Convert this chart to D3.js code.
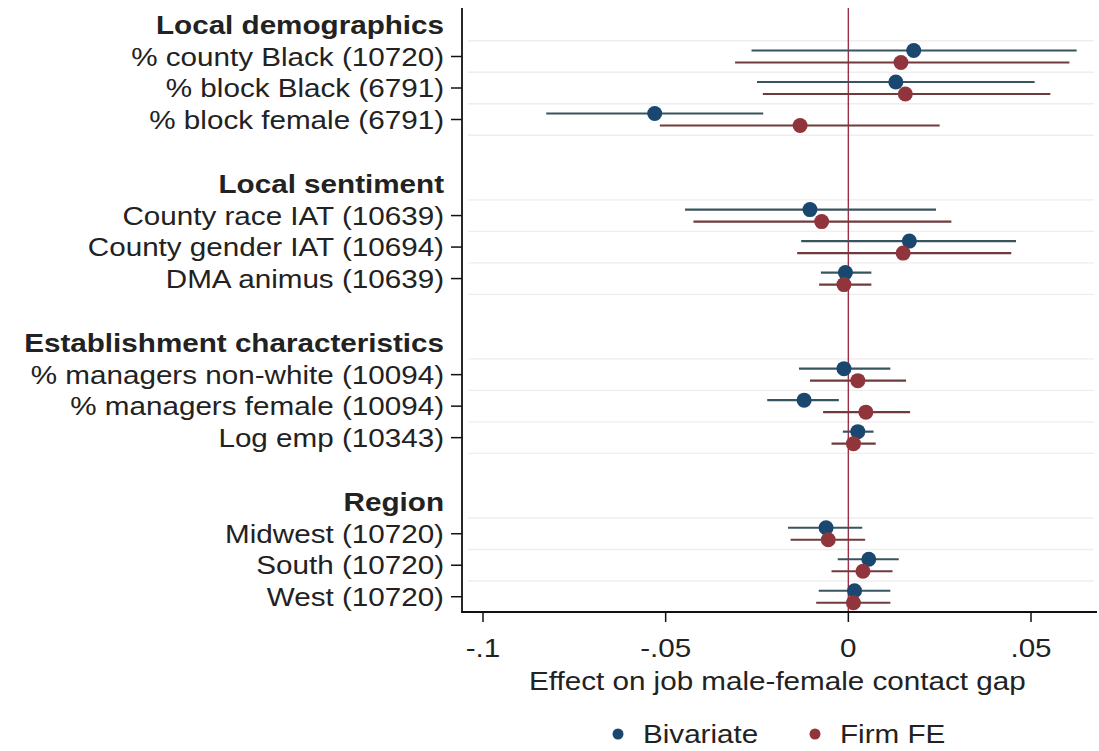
<!DOCTYPE html>
<html>
<head>
<meta charset="utf-8">
<script src="https://cdnjs.cloudflare.com/ajax/libs/d3/7.8.5/d3.min.js"></script>
<style>
  body { margin: 0; background: #fff; }
  text { font-family: "Liberation Sans", Arial, sans-serif; fill: #222; }
</style>
</head>
<body>
<script>
// group headers and the rows under each
var groups = ["Local demographics", "Local sentiment", "Establishment characteristics", "Region"];
var labels = [
  ["% county Black (10720)", "% block Black (6791)", "% block female (6791)"],
  ["County race IAT (10639)", "County gender IAT (10694)", "DMA animus (10639)"],
  ["% managers non-white (10094)", "% managers female (10094)", "Log emp (10343)"],
  ["Midwest (10720)", "South (10720)", "West (10720)"]
];

// Bivariate estimates and 95% CI
var bivCoef = [0.0179, 0.0130, -0.0530, -0.0105, 0.0167, -0.0008, -0.0012, -0.0121, 0.0026, -0.0061, 0.0056, 0.0017];
var bivLo   = [-0.0265, -0.0250, -0.0827, -0.0447, -0.0129, -0.0075, -0.0135, -0.0222, -0.0015, -0.0165, -0.0029, -0.0081];
var bivHi   = [0.0625, 0.0510, -0.0233, 0.0240, 0.0459, 0.0063, 0.0115, -0.0026, 0.0069, 0.0038, 0.0138, 0.0115];

// Firm FE estimates and 95% CI
var feCoef = [0.0144, 0.0156, -0.0132, -0.0073, 0.0150, -0.0012, 0.0026, 0.0048, 0.0014, -0.0055, 0.0040, 0.0014];
var feLo   = [-0.0310, -0.0234, -0.0516, -0.0424, -0.0140, -0.0080, -0.0105, -0.0069, -0.0046, -0.0158, -0.0046, -0.0088];
var feHi   = [0.0605, 0.0553, 0.0250, 0.0282, 0.0446, 0.0063, 0.0158, 0.0169, 0.0075, 0.0046, 0.0121, 0.0115];

var xTicks = [-0.1, -0.05, 0, 0.05];
var xTickLabels = ["-.1", "-.05", "0", ".05"];
var seriesNames = ["Bivariate", "Firm FE"];

var w = 1099, h = 751;
var blue = "#1a476f", red = "#90353b";
var blueCI = "#38555f", redCI = "#703b3d";
var fs = 26, sx = 1.14;   // text is stretched wide in the original

var svg = d3.select("body").append("svg")
  .attr("width", w)
  .attr("height", h);

var x = d3.scaleLinear().domain([-0.1, 0.05]).range([483, 1031]);
var y = d3.scaleLinear().domain([0, 1]).range([25, 56.5]);  // row units
var groupStep = 5.05;
var plotLeft = 462, plotRight = 1097, plotTop = 8, plotBottom = 612;

// flatten rows
var rows = [];
labels.forEach(function(list, g) {
  list.forEach(function(lab, i) {
    rows.push({ label: lab, pos: g * groupStep + i + 1 });
  });
});
rows.forEach(function(r, k) {
  r.b = bivCoef[k]; r.bl = bivLo[k]; r.bh = bivHi[k];
  r.f = feCoef[k]; r.fl = feLo[k]; r.fh = feHi[k];
});

function stretchText(sel, px, py, anchor) {
  return sel.attr("transform", "translate(" + px + "," + py + ") scale(" + sx + ",1)")
    .attr("text-anchor", anchor)
    .attr("font-size", fs + "px");
}

// horizontal gridlines around each row
var grid = [];
groups.forEach(function(gname, g) {
  for (var j = 0; j < 4; j++) grid.push(g * groupStep + j + 0.5);
});
svg.selectAll("line.grid")
  .data(grid)
  .enter()
  .append("line")
  .attr("class", "grid")
  .attr("x1", plotLeft + 6).attr("x2", plotRight - 3)
  .attr("y1", function(d) { return y(d); })
  .attr("y2", function(d) { return y(d); })
  .attr("stroke", "#eeeeee")
  .attr("stroke-width", 1.3);

// zero line
svg.append("line")
  .attr("x1", x(0)).attr("x2", x(0))
  .attr("y1", plotTop).attr("y2", plotBottom)
  .attr("stroke", "#9e2f47")
  .attr("stroke-width", 1.4);

var off = 6;

// CIs
svg.selectAll("line.ciB")
  .data(rows).enter().append("line")
  .attr("x1", function(d) { return x(d.bl); })
  .attr("x2", function(d) { return x(d.bh); })
  .attr("y1", function(d) { return y(d.pos) - off; })
  .attr("y2", function(d) { return y(d.pos) - off; })
  .attr("stroke", blueCI).attr("stroke-width", 2.2);

svg.selectAll("line.ciF")
  .data(rows).enter().append("line")
  .attr("x1", function(d) { return x(d.fl); })
  .attr("x2", function(d) { return x(d.fh); })
  .attr("y1", function(d) { return y(d.pos) + off; })
  .attr("y2", function(d) { return y(d.pos) + off; })
  .attr("stroke", redCI).attr("stroke-width", 2.2);

// points
svg.selectAll("circle.b")
  .data(rows).enter().append("circle")
  .attr("cx", function(d) { return x(d.b); })
  .attr("cy", function(d) { return y(d.pos) - off; })
  .attr("r", 7.5)
  .attr("fill", blue);

svg.selectAll("circle.f")
  .data(rows).enter().append("circle")
  .attr("cx", function(d) { return x(d.f); })
  .attr("cy", function(d) { return y(d.pos) + off; })
  .attr("r", 7.5)
  .attr("fill", red);

// y axis
svg.append("line")
  .attr("x1", plotLeft).attr("x2", plotLeft)
  .attr("y1", plotTop).attr("y2", plotBottom + 1)
  .attr("stroke", "#111").attr("stroke-width", 1.8);

svg.selectAll("line.ytick")
  .data(rows).enter().append("line")
  .attr("x1", plotLeft - 11).attr("x2", plotLeft)
  .attr("y1", function(d) { return y(d.pos); })
  .attr("y2", function(d) { return y(d.pos); })
  .attr("stroke", "#111").attr("stroke-width", 1.5);

svg.selectAll("text.ylab")
  .data(rows).enter().append("text")
  .each(function(d) { stretchText(d3.select(this), 444, y(d.pos), "end"); })
  .attr("dy", "0.35em")
  .text(function(d) { return d.label; });

svg.selectAll("text.head")
  .data(groups).enter().append("text")
  .each(function(d, g) { stretchText(d3.select(this), 444, y(g * groupStep), "end"); })
  .attr("dy", "0.35em")
  .attr("font-weight", "bold")
  .text(function(d) { return d; });

// x axis
svg.append("line")
  .attr("x1", plotLeft - 1).attr("x2", plotRight)
  .attr("y1", plotBottom).attr("y2", plotBottom)
  .attr("stroke", "#111").attr("stroke-width", 1.8);

svg.selectAll("line.xtick")
  .data(xTicks).enter().append("line")
  .attr("x1", function(d) { return x(d); })
  .attr("x2", function(d) { return x(d); })
  .attr("y1", plotBottom).attr("y2", plotBottom + 10)
  .attr("stroke", "#111").attr("stroke-width", 1.5);

svg.selectAll("text.xlab")
  .data(xTicks).enter().append("text")
  .each(function(d) { stretchText(d3.select(this), x(d), 648, "middle"); })
  .attr("dy", "0.35em")
  .text(function(d, i) { return xTickLabels[i]; });

stretchText(svg.append("text"), x(0) - 71, 681, "middle")
  .attr("dy", "0.35em")
  .text("Effect on job male-female contact gap");

// legend
var legX = [618, 815];
var legCol = [blue, red];
var leg = svg.selectAll("g.leg")
  .data(seriesNames).enter().append("g");
leg.append("circle")
  .attr("cx", function(d, i) { return legX[i]; })
  .attr("cy", 734)
  .attr("r", 5.5)
  .attr("fill", function(d, i) { return legCol[i]; });
leg.append("text")
  .each(function(d, i) { stretchText(d3.select(this), legX[i] + 25, 734, "start"); })
  .attr("dy", "0.35em")
  .text(function(d) { return d; });
</script>
</body>
</html>
